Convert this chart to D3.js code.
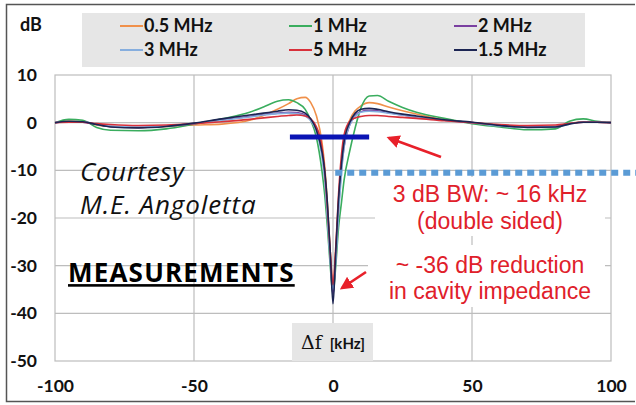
<!DOCTYPE html>
<html>
<head>
<meta charset="utf-8">
<script src="https://cdn.jsdelivr.net/npm/d3@7"></script>
<style>
  html, body { margin: 0; padding: 0; background: #fff; }
  svg { display: block; }
</style>
</head>
<body>
<svg id="chart" width="636" height="405"></svg>
<script>
// Frequency offsets (kHz) shared by every trace
const freqs = [-100,-95,-90,-85,-80,-70,-60,-50,-40,-30,-25,-20,-16,-13,-10,-8,-6,-4,-3,-2,-1,0,1,2,3,4,6,8,10,13,16,20,25,30,40,50,60,70,80,85,90,95,100];

// Measured response (dB) for each revolution frequency
const db05 = [0,0.3,0.2,-0.5,-0.8,-1.0,-0.8,-0.5,-0.3,0.5,1.5,2.8,4.0,5.0,5.3,4.2,1.5,-4,-9,-17,-27,-35,-27,-17,-9,-4,0.5,2.5,3.5,4.2,4.0,3.3,2.5,1.8,0.6,0.0,-0.6,-0.9,-0.8,-0.2,0.2,0.1,0];
const db1  = [0,0.7,0.5,-1.0,-1.6,-1.7,-1.3,-0.3,0.8,2.2,3.3,4.5,4.8,4.2,2.8,0.5,-3,-10,-15,-22,-30,-36,-30,-22,-17,-12,-6,-1,3,5.6,5.7,4.5,3.2,2.2,0.9,-0.2,-0.9,-1.5,-1.3,0.3,0.8,0.3,0];
const db2  = [0,0.2,0.1,-0.4,-0.8,-1.0,-0.7,-0.2,0.6,1.3,1.7,2.0,2.2,2.1,1.6,0.6,-1.5,-6,-11,-19,-28,-36,-28,-18,-10,-5,-0.5,1.5,2.3,2.6,2.5,2.1,1.6,1.2,0.5,0.0,-0.6,-0.9,-0.8,-0.2,0.1,0.1,0];
const db3  = [0,0.2,0.2,-0.3,-0.7,-0.9,-0.7,-0.2,0.5,1.2,1.6,1.9,2.0,1.9,1.4,0.4,-1.8,-7,-12,-20,-29,-35,-29,-19,-11,-5,-0.5,1.3,2.2,2.4,2.3,2.0,1.6,1.2,0.5,0.0,-0.7,-1.0,-0.9,-0.3,0.1,0.1,0];
const db5  = [0,0.1,0.1,-0.2,-0.4,-0.6,-0.5,-0.2,0.2,0.7,1.0,1.3,1.5,1.6,1.4,0.8,-0.8,-5,-10,-18,-27,-34,-26,-15,-7,-2.5,0.3,1.0,1.3,1.5,1.5,1.3,1.1,0.9,0.4,0.0,-0.4,-0.6,-0.5,-0.2,0.1,0.1,0];
const db15 = [0,0.3,0.2,-0.4,-0.9,-1.1,-0.8,-0.1,0.8,1.6,2.0,2.4,2.7,2.6,2.0,0.8,-1.5,-6,-10,-17,-27,-38,-27,-16,-9,-4,0,2,2.8,3.0,2.8,2.3,1.8,1.4,0.6,0.1,-0.6,-1.0,-0.9,-0.3,0.1,0.1,0];

const seriesNames  = ["0.5 MHz","1 MHz","2 MHz","3 MHz","5 MHz","1.5 MHz"];
const seriesValues = [db05, db1, db2, db3, db5, db15];
const seriesColors = ["#f0904a","#3aad5e","#7a3fa0","#86aede","#d8303a","#1c2553"];

const yTicks = [-50,-40,-30,-20,-10,0,10];
const xTicks = [-100,-50,0,50,100];

const svg = d3.select("#chart");
const x = d3.scaleLinear().domain([-100,100]).range([55,611]);
const y = d3.scaleLinear().domain([-50,10]).range([361,75]);

// outer frame
svg.append("path")
  .attr("d","M635,4.5 H6.5 V401.5 H635")
  .attr("fill","none").attr("stroke","#555").attr("stroke-width",1.5);

// legend box
const leg = svg.append("g");
leg.append("rect").attr("x",82).attr("y",13).attr("width",503).attr("height",54).attr("fill","#e6e6e6");
const legCols = [120, 289, 454];
const legRows = [26, 50];
seriesNames.forEach((name, i) => {
  const cx = legCols[i % 3], cy = legRows[Math.floor(i / 3)];
  leg.append("line").attr("x1",cx).attr("x2",cx+23).attr("y1",cy).attr("y2",cy)
    .attr("stroke",seriesColors[i]).attr("stroke-width",2);
  leg.append("text").attr("x",cx+24).attr("y",cy).attr("dy","0.35em")
    .attr("font-family","Lato").attr("font-weight","bold").attr("font-size",18)
    .attr("fill","#111").text(name);
});

svg.append("text").attr("x",20).attr("y",25).attr("dy","0.35em")
  .attr("font-family","Lato").attr("font-weight","bold").attr("font-size",18)
  .attr("fill","#111").text("dB");

// grid
const grid = svg.append("g").attr("stroke","#bdbdbd").attr("stroke-width",1.2);
yTicks.filter(v => v > -50 && v < 10).forEach(v => {
  grid.append("line").attr("x1",x(-100)).attr("x2",x(100)).attr("y1",y(v)).attr("y2",y(v));
});
xTicks.filter(v => v > -100 && v < 100).forEach(v => {
  grid.append("line").attr("x1",x(v)).attr("x2",x(v)).attr("y1",y(10)).attr("y2",y(-50));
});
svg.append("rect").attr("x",x(-100)).attr("y",y(10)).attr("width",x(100)-x(-100)).attr("height",y(-50)-y(10))
  .attr("fill","none").attr("stroke","#bdbdbd").attr("stroke-width",1.2);

// axes
const plain = d => String(d);
const yAxis = svg.append("g").attr("transform",`translate(${x(-100)},0)`)
  .call(d3.axisLeft(y).tickValues(yTicks).tickFormat(plain).tickSize(0).tickPadding(18));
const xAxis = svg.append("g").attr("transform",`translate(0,${y(-50)})`)
  .call(d3.axisBottom(x).tickValues(xTicks).tickFormat(plain).tickSize(0).tickPadding(19));
[yAxis, xAxis].forEach(g => {
  g.select(".domain").remove();
  g.selectAll("text").attr("font-family","Lato").attr("font-weight","bold")
    .attr("font-size",17.5).attr("fill","#111");
});

// white panels behind the red notes
svg.append("rect").attr("x",375).attr("y",177).attr("width",230).attr("height",59).attr("fill","#fff");
svg.append("rect").attr("x",368).attr("y",245).attr("width",237).attr("height",62).attr("fill","#fff");

// axis title box
svg.append("rect").attr("x",292).attr("y",323).attr("width",81).attr("height",38).attr("fill","#e6e6e6");
const af = svg.append("text").attr("x",333).attr("y",343).attr("dy","0.35em")
  .attr("text-anchor","middle").attr("fill","#111").attr("font-family","Lato");
af.append("tspan").attr("font-size",19).attr("font-family","DejaVu Serif").text("\u0394f");
af.append("tspan").attr("font-size",15).attr("font-weight","bold").attr("dx",8).text("[kHz]");

// traces
const line = d3.line().x((d,i) => x(freqs[i])).y(d => y(d)).curve(d3.curveMonotoneX);
const traces = svg.append("g").attr("fill","none").attr("stroke-width",1.6).attr("stroke-linejoin","round");
seriesValues.forEach((vals, i) => {
  traces.append("path").attr("d", line(vals)).attr("stroke", seriesColors[i]);
});

// -3 dB bandwidth marker
svg.append("line").attr("x1",x(-15.5)).attr("x2",x(13)).attr("y1",y(-3)).attr("y2",y(-3))
  .attr("stroke","#0a14b4").attr("stroke-width",5);

// dotted reference
svg.append("line").attr("x1",x(0.8)).attr("x2",640).attr("y1",y(-10.5)).attr("y2",y(-10.5))
  .attr("stroke","#5b9bd5").attr("stroke-width",6).attr("stroke-dasharray","7,5");

// arrows
const defs = svg.append("defs");
defs.append("marker").attr("id","ah").attr("viewBox","0 0 10 10").attr("refX",8).attr("refY",5)
  .attr("markerWidth",5).attr("markerHeight",5).attr("orient","auto")
  .append("path").attr("d","M0,0 L10,5 L0,10 Z").attr("fill","#e8202a");
[[441,157,389,138],[366,272,342,288]].forEach(a => {
  svg.append("line").attr("x1",a[0]).attr("y1",a[1]).attr("x2",a[2]).attr("y2",a[3])
    .attr("stroke","#e8202a").attr("stroke-width",2.6).attr("marker-end","url(#ah)");
});

// red notes
const notes = [["3 dB BW: ~ 16 kHz",194],["(double sided)",221],["~ -36 dB reduction",265],["in cavity impedance",291]];
notes.forEach(n => {
  svg.append("text").attr("x",490).attr("y",n[1]).attr("dy","0.35em").attr("text-anchor","middle")
    .attr("font-family","Liberation Sans").attr("font-size",23).attr("fill","#e0202a").text(n[0]);
});

// credits
svg.append("text").attr("x",80).attr("y",172).attr("dy","0.35em")
  .attr("font-family","Open Sans").attr("font-style","italic").attr("font-size",26)
  .attr("letter-spacing",0.6).attr("fill","#111").text("Courtesy");
svg.append("text").attr("x",80).attr("y",205).attr("dy","0.35em")
  .attr("font-family","Open Sans").attr("font-style","italic").attr("font-size",26)
  .attr("letter-spacing",0.9).attr("fill","#111").text("M.E. Angoletta");
svg.append("text").attr("x",68).attr("y",273).attr("dy","0.35em")
  .attr("font-family","Open Sans").attr("font-weight","bold").attr("font-size",26)
  .attr("letter-spacing",1.2).attr("text-decoration","underline").attr("fill","#000").text("MEASUREMENTS");
</script>
</body>
</html>
